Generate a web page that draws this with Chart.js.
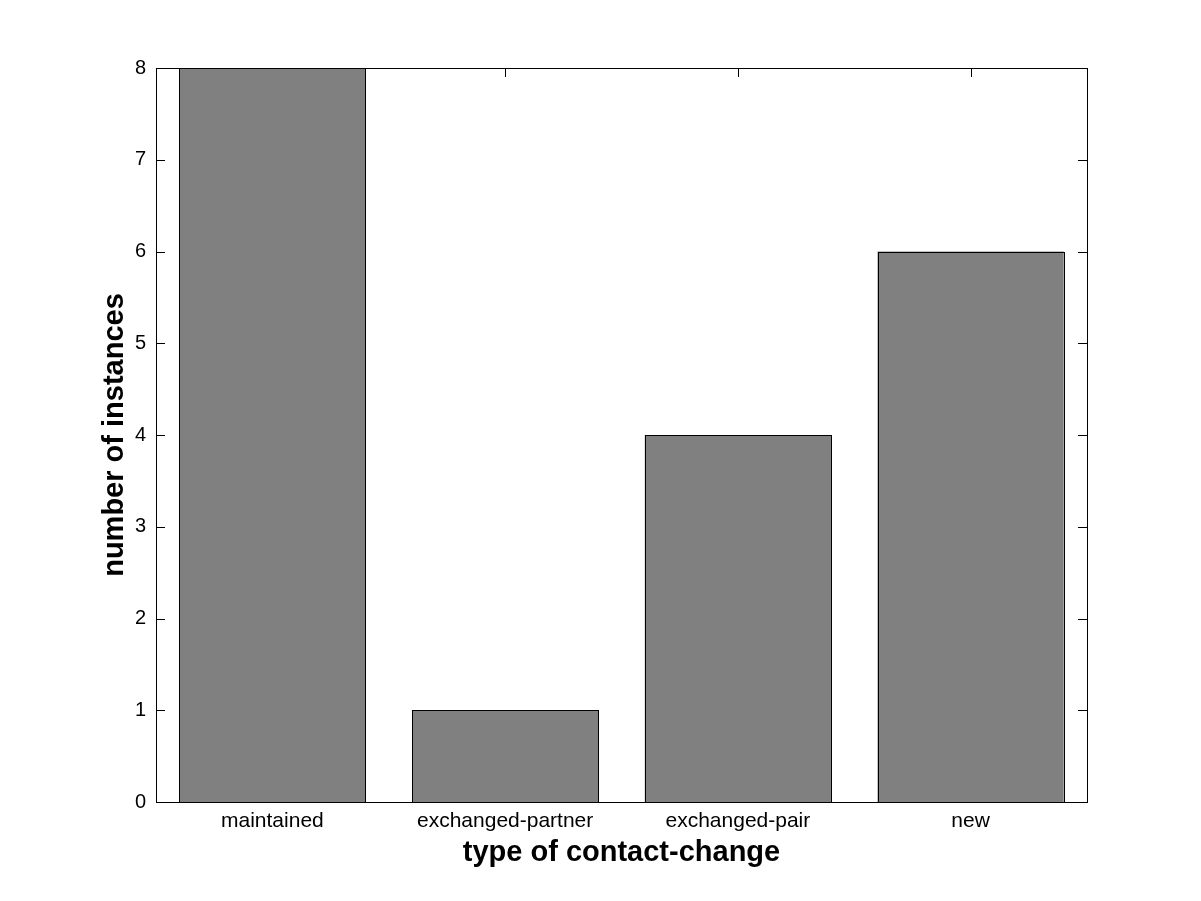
<!DOCTYPE html>
<html>
<head>
<meta charset="utf-8">
<script src="https://cdn.jsdelivr.net/npm/chart.js@4.4.0/dist/chart.umd.min.js"></script>
<style>
  html, body { margin: 0; padding: 0; background: #fff; }
  #wrap { width: 1201px; height: 901px; }
</style>
</head>
<body>
<div id="wrap"><canvas id="myChart" width="1201" height="901"></canvas></div>
<script>
const categories = ['maintained', 'exchanged-partner', 'exchanged-pair', 'new']
const instances = [8, 1, 4, 6]
const yTicks = [0, 1, 2, 3, 4, 5, 6, 7, 8]

const fontFamily = 'Arial, "Liberation Sans", Helvetica, sans-serif'

// matlab style box with ticks pointing inward, crisp bar outlines
const boxTicks = {
    id: 'boxTicks',
    beforeDatasetsDraw(chart) {
        const ctx = chart.ctx
        const a = chart.chartArea
        const x = chart.scales.x
        const y = chart.scales.y
        const len = 9
        ctx.save()
        ctx.strokeStyle = '#000'
        ctx.lineWidth = 1
        ctx.beginPath()
        yTicks.forEach(v => {
            const py = Math.round(y.getPixelForValue(v)) + 0.5
            ctx.moveTo(a.left, py); ctx.lineTo(a.left + len, py)
            ctx.moveTo(a.right, py); ctx.lineTo(a.right - len, py)
        })
        categories.forEach((c, i) => {
            const px = Math.round(x.getPixelForValue(i)) + 0.5
            ctx.moveTo(px, a.top); ctx.lineTo(px, a.top + len)
            ctx.moveTo(px, a.bottom); ctx.lineTo(px, a.bottom - len)
        })
        ctx.stroke()
        ctx.restore()
    },
    afterDatasetsDraw(chart) {
        const ctx = chart.ctx
        const a = chart.chartArea
        ctx.save()
        ctx.strokeStyle = '#000'
        ctx.lineWidth = 1
        chart.getDatasetMeta(0).data.forEach(bar => {
            const l = Math.round(bar.x - bar.width / 2)
            const r = Math.round(bar.x + bar.width / 2)
            const t = Math.round(bar.y)
            const b = Math.round(bar.base)
            ctx.strokeRect(l + 0.5, t + 0.5, r - l, b - t)
        })
        ctx.strokeRect(Math.round(a.left) + 0.5, Math.round(a.top) + 0.5,
            Math.round(a.right - a.left), Math.round(a.bottom - a.top))
        ctx.restore()
    }
}

const ctx = document.getElementById('myChart')
const chart = new Chart(ctx, {
    type: 'bar',
    data: {
        labels: categories,
        datasets: [{
            label: 'number of instances',
            data: instances,
            backgroundColor: '#808080',
            borderWidth: 0,
            categoryPercentage: 1.0,
            barPercentage: 0.8,
        }]
    },
    options: {
        responsive: false,
        animation: false,
        devicePixelRatio: 1,
        layout: { padding: { left: 0, top: 68, right: 114, bottom: 0 } },
        plugins: {
            legend: { display: false },
            tooltip: { enabled: false }
        },
        scales: {
            x: {
                grid: { display: false, drawTicks: false },
                border: { display: false },
                ticks: { color: '#000', padding: 7, font: { family: fontFamily, size: 21 } },
                title: {
                    display: true,
                    text: 'type of contact-change',
                    color: '#000',
                    font: { family: fontFamily, size: 29, weight: 'bold' },
                    padding: { top: 0, bottom: 31 }
                },
                afterFit: s => { s.height = 99 }
            },
            y: {
                min: 0,
                max: 8,
                grid: { display: false, drawTicks: false },
                border: { display: false },
                ticks: { color: '#000', stepSize: 1, padding: 10, font: { family: fontFamily, size: 20 } },
                title: {
                    display: true,
                    text: 'number of instances',
                    color: '#000',
                    font: { family: fontFamily, size: 29, weight: 'bold' },
                    padding: { top: 98, bottom: 0 }
                },
                afterFit: s => { s.width = 156 }
            }
        }
    },
    plugins: [boxTicks]
})
</script>
</body>
</html>
